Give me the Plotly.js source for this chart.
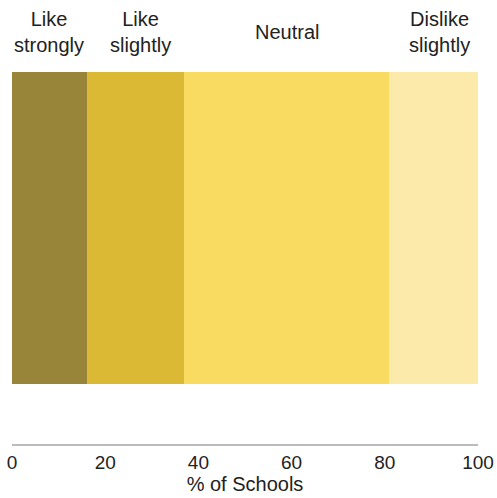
<!DOCTYPE html>
<html><head><meta charset="utf-8">
<script src="https://cdn.plot.ly/plotly-3.0.1.min.js"></script>
<style>body{margin:0;padding:0;background:#fff}#chart{width:497px;height:498px}</style>
</head><body><div id="chart"></div>
<script>
const categories = ["Like<br>strongly", "Like<br>slightly", "Neutral", "Dislike<br>slightly"];
const values = [16, 21, 44, 19];
const colors = ["#99853a", "#dbb935", "#f9db62", "#fbeaa9"];
const tickVals = [0, 20, 40, 60, 80, 100];
const tickText = ["0", "20", "40", "60", "80", "100"];
const labelShift = [0, 5, 0, 6];

const FONT = "Liberation Sans, Arial, sans-serif";
const traces = categories.map((c, i) => ({
  type: "bar", orientation: "h", x: [values[i]], y: [0], width: 1,
  marker: {color: colors[i], line: {width: 0}}, name: c, hoverinfo: "skip"
}));
let cum = 0;
const annotations = categories.map((c, i) => {
  const mid = cum + values[i] / 2; cum += values[i];
  return {x: mid, xref: "x", y: 1, yref: "paper", yanchor: "middle", yshift: 40, xshift: labelShift[i],
    text: c, showarrow: false, font: {family: FONT, size: 20, color: "#222"}};
});
Plotly.newPlot("chart", traces, {
  width: 497, height: 498, barmode: "stack", showlegend: false,
  margin: {l: 12, r: 19, t: 72, b: 54},
  paper_bgcolor: "#fff", plot_bgcolor: "#fff",
  font: {family: FONT, size: 20, color: "#222"},
  xaxis: {range: [0, 100], tickvals: tickVals, ticktext: tickText, showgrid: false, zeroline: false,
    showline: true, linecolor: "#bbbbbb", linewidth: 2, ticks: "", fixedrange: true,
    tickfont: {size: 19, color: "#222"},
    title: {text: "% of Schools", standoff: 0, font: {size: 20, color: "#222"}}},
  yaxis: {range: [-0.6923, 0.5], showticklabels: false, showgrid: false, zeroline: false, showline: false, fixedrange: true},
  annotations: annotations
}, {displayModeBar: false, staticPlot: true});
</script></body></html>
